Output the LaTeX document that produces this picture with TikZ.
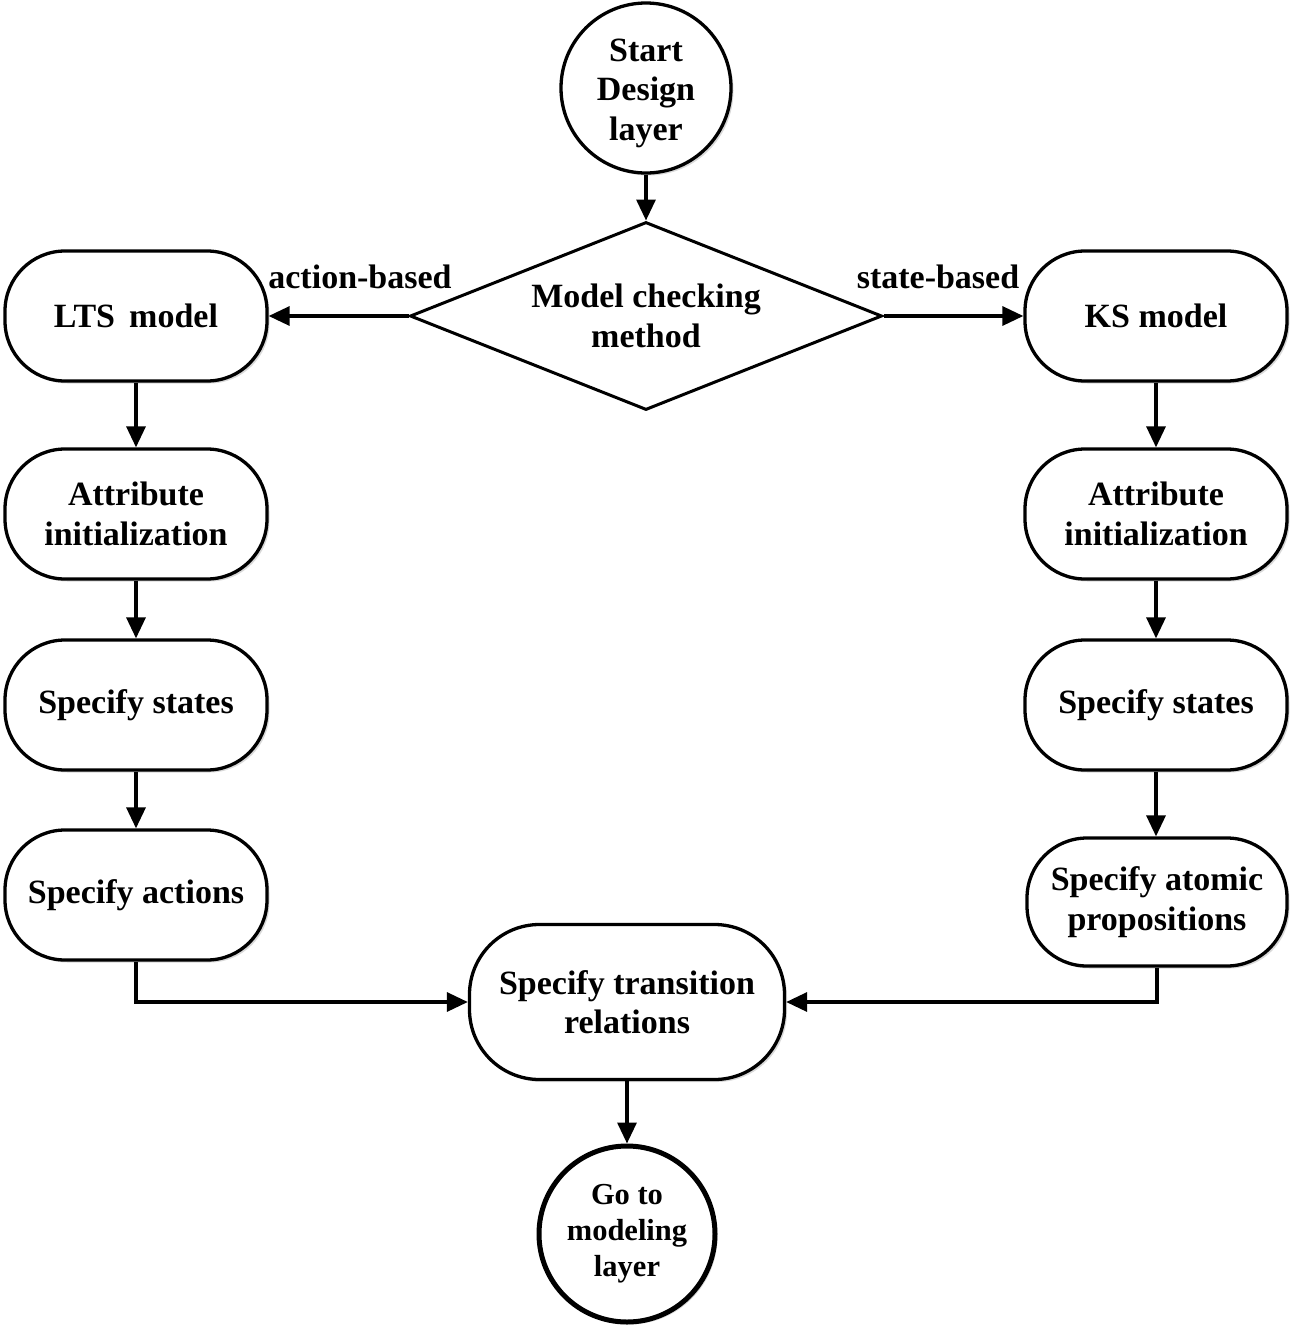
\documentclass[tikz,border=0pt]{standalone}
\usepackage{fontspec}
\setmainfont{Liberation Serif}
\usetikzlibrary{arrows.meta,shapes.geometric,shadows}
\begin{document}
\begin{tikzpicture}[x=1pt,y=-1pt,
  every node/.style={font=\fontsize{34}{39.5}\selectfont\bfseries, align=center},
  sh/.style={drop shadow={shadow xshift=2.5pt, shadow yshift=-2.5pt, opacity=0.3}},
  proc/.style={draw, line width=3.3pt, rounded corners=60pt, minimum width=262pt, minimum height=130pt, fill=white, sh, inner sep=2pt},
  term/.style={draw, circle, line width=3.3pt, fill=white, inner sep=0pt, sh},
  dec/.style={draw, diamond, aspect=2.5, line width=3pt, fill=white, minimum width=472pt, minimum height=188pt, inner sep=0pt},
  lbl/.style={inner sep=0pt},
  arr/.style={line width=3.3pt, -{Triangle[length=21pt,width=19pt]}}
]
\useasboundingbox (0,0) rectangle (1299,1339);
\node[term, minimum size=170pt] (start) at (646,88) {\raisebox{0pt}[\dimexpr\height+10pt\relax][\depth]{\begin{tabular}{@{}c@{}}Start\\Design\\layer\end{tabular}}};
\node[dec] (mcm) at (646,316) {Model checking\\method};
\node[proc] (lts) at (136,316) {LTS\, model};
\node[proc] (ai1) at (136,514) {Attribute\\initialization};
\node[proc] (ss1) at (136,705) {Specify states};
\node[proc] (act) at (136,895) {Specify actions};
\node[proc] (ks) at (1156,316) {KS model};
\node[proc] (ai2) at (1156,514) {Attribute\\initialization};
\node[proc] (ss2) at (1156,705) {Specify states};
\node[proc, minimum width=260pt, minimum height=128pt] (atp) at (1157,902) {Specify atomic\\propositions};
\node[proc, minimum width=315pt, minimum height=155pt, rounded corners=70pt] (tr) at (627,1002) {Specify transition\\relations};
\node[term, minimum size=176pt, line width=5pt, font=\fontsize{30.5}{36}\selectfont\bfseries] (go) at (627,1234) {Go to\\modeling\\layer};
\node[lbl] (la) at (360,277) {action-based};
\node[lbl] (ls) at (938,277) {state-based};
\draw[arr] (start) -- (mcm);
\draw[arr] (mcm.west) -- (lts.east);
\draw[arr] (mcm.east) -- (ks.west);
\draw[arr] (lts) -- (ai1);
\draw[arr] (ai1) -- (ss1);
\draw[arr] (ss1) -- (act);
\draw[arr] (ks) -- (ai2);
\draw[arr] (ai2) -- (ss2);
\draw[arr] (ss2.south) -- (ss2.south |- atp.north);
\draw[arr] (act.south) |- (tr.west);
\draw[arr] (atp.south) |- (tr.east);
\draw[arr] (tr) -- (go);
\end{tikzpicture}
\end{document}
